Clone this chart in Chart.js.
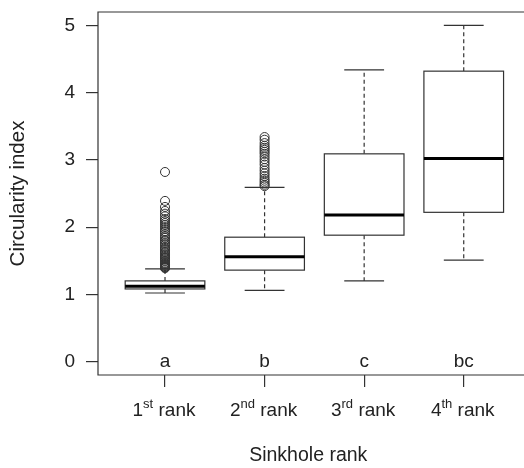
<!DOCTYPE html>
<html>
<head>
<meta charset="utf-8">
<script src="https://cdn.jsdelivr.net/npm/chart.js@4"></script>
<style>
  html, body { margin: 0; padding: 0; background: #fff; overflow: hidden; }
  #boxChart { display: block; }
</style>
</head>
<body>
<canvas id="boxChart" width="524" height="468"></canvas>
<script>
// Données
const rankPos = [1, 2, 3, 4];
const rankNum = ['1', '2', '3', '4'];
const rankSup = ['st', 'nd', 'rd', 'th'];
const rankWord = ' rank';
const groupLetters = ['a', 'b', 'c', 'bc'];

const lowWhisker = [1.02, 1.06, 1.20, 1.51];
const q1 = [1.08, 1.36, 1.88, 2.22];
const median = [1.12, 1.56, 2.18, 3.02];
const q3 = [1.20, 1.85, 3.09, 4.32];
const highWhisker = [1.38, 2.59, 4.34, 5.00];

const outliers1 = [2.82, 2.39, 2.30, 2.24, 2.20, 2.16, 2.12, 2.09, 2.06, 2.03, 2.00, 1.97, 1.94, 1.92,
  1.89, 1.86, 1.84, 1.81, 1.79, 1.76, 1.74, 1.71, 1.69, 1.67, 1.65, 1.63, 1.61, 1.59, 1.57, 1.55,
  1.54, 1.52, 1.50, 1.49, 1.47, 1.46, 1.45, 1.44, 1.43, 1.42, 1.41, 1.40, 1.40, 1.39];
const outliers2 = [3.34, 3.30, 3.25, 3.21, 3.18, 3.15, 3.12, 3.09, 3.05, 3.01, 2.97, 2.93, 2.88, 2.84,
  2.80, 2.76, 2.72, 2.69, 2.66, 2.63, 2.61];

const yTicks = [0, 1, 2, 3, 4, 5];

const FONT = '"Liberation Sans", Arial, sans-serif';
const INK = '#333';

// Boîtes, moustaches, lettres et cadre
const boxPlugin = {
  id: 'boxes',
  beforeDatasetsDraw(chart) {
    const ctx = chart.ctx;
    const xs = chart.scales.x, ys = chart.scales.y;
    ctx.save();
    rankPos.forEach((p, i) => {
      const x = xs.getPixelForValue(p);
      const xl = xs.getPixelForValue(p - 0.4), xr = xs.getPixelForValue(p + 0.4);
      const cl = xs.getPixelForValue(p - 0.2), cr = xs.getPixelForValue(p + 0.2);
      const yLo = ys.getPixelForValue(lowWhisker[i]);
      const yQ1 = ys.getPixelForValue(q1[i]);
      const yMed = ys.getPixelForValue(median[i]);
      const yQ3 = ys.getPixelForValue(q3[i]);
      const yHi = ys.getPixelForValue(highWhisker[i]);
      ctx.strokeStyle = INK;
      ctx.lineWidth = 1.2;
      // moustaches pointillées
      ctx.setLineDash([4, 3]);
      ctx.beginPath();
      ctx.moveTo(x, yQ3); ctx.lineTo(x, yHi);
      ctx.moveTo(x, yQ1); ctx.lineTo(x, yLo);
      ctx.stroke();
      ctx.setLineDash([]);
      // extrémités
      ctx.beginPath();
      ctx.moveTo(cl, yHi); ctx.lineTo(cr, yHi);
      ctx.moveTo(cl, yLo); ctx.lineTo(cr, yLo);
      ctx.stroke();
      // boîte
      ctx.fillStyle = '#fff';
      ctx.fillRect(xl, yQ3, xr - xl, yQ1 - yQ3);
      ctx.strokeRect(xl, yQ3, xr - xl, yQ1 - yQ3);
      // médiane
      ctx.strokeStyle = '#000';
      ctx.lineWidth = 3;
      ctx.beginPath();
      ctx.moveTo(xl, yMed); ctx.lineTo(xr, yMed);
      ctx.stroke();
    });
    ctx.restore();
  },
  afterDraw(chart) {
    const ctx = chart.ctx;
    const xs = chart.scales.x, ys = chart.scales.y;
    const a = chart.chartArea;
    ctx.save();
    // cadre : le bord droit est hors de l'image
    ctx.strokeStyle = INK;
    ctx.lineWidth = 1.2;
    ctx.beginPath();
    ctx.moveTo(chart.width, a.top);
    ctx.lineTo(a.left, a.top);
    ctx.lineTo(a.left, a.bottom);
    ctx.lineTo(chart.width, a.bottom);
    ctx.stroke();
    // lettres des groupes
    ctx.fillStyle = '#222';
    ctx.font = '19px ' + FONT;
    ctx.textAlign = 'center';
    ctx.textBaseline = 'middle';
    rankPos.forEach((p, i) => {
      ctx.fillText(groupLetters[i], xs.getPixelForValue(p), ys.getPixelForValue(0));
    });
    // étiquettes de l'axe x avec exposants
    ctx.textAlign = 'left';
    ctx.textBaseline = 'alphabetic';
    const base = a.bottom + 41;
    rankPos.forEach((p, i) => {
      const x = xs.getPixelForValue(p);
      ctx.font = '19px ' + FONT;
      const w1 = ctx.measureText(rankNum[i]).width;
      const w3 = ctx.measureText(rankWord).width;
      ctx.font = '13px ' + FONT;
      const w2 = ctx.measureText(rankSup[i]).width;
      let sx = x - (w1 + w2 + w3) / 2 - 1;
      ctx.font = '19px ' + FONT;
      ctx.fillText(rankNum[i], sx, base);
      ctx.font = '13px ' + FONT;
      ctx.fillText(rankSup[i], sx + w1, base - 8);
      ctx.font = '19px ' + FONT;
      ctx.fillText(rankWord, sx + w1 + w2, base);
    });
    ctx.restore();
  }
};

const ctx = document.getElementById('boxChart').getContext('2d');
new Chart(ctx, {
  type: 'scatter',
  data: {
    datasets: [{
      label: 'outliers',
      data: outliers1.map(v => ({ x: rankPos[0], y: v })).concat(outliers2.map(v => ({ x: rankPos[1], y: v }))),
      pointStyle: 'circle',
      pointRadius: 4.5,
      pointBorderWidth: 1,
      backgroundColor: 'rgba(0,0,0,0)',
      borderColor: INK
    }]
  },
  options: {
    responsive: false,
    animation: false,
    devicePixelRatio: 1,
    layout: { padding: { top: 12, right: 0, bottom: 0, left: 0 } },
    plugins: { legend: { display: false }, tooltip: { enabled: false } },
    scales: {
      x: {
        type: 'linear',
        min: 0.327,
        max: 4.55,
        afterBuildTicks: s => { s.ticks = rankPos.map(v => ({ value: v })); },
        afterFit: s => { s.height = 93; },
        ticks: { callback: () => '', autoSkip: false },
        grid: { drawOnChartArea: false, drawTicks: true, tickLength: 12, color: INK, lineWidth: 1.2 },
        border: { display: false },
        title: {
          display: true,
          text: 'Sinkhole rank',
          color: '#222',
          font: { family: FONT, size: 19.5 },
          padding: { top: 0, bottom: 1 }
        }
      },
      y: {
        min: -0.2,
        max: 5.2,
        afterBuildTicks: s => { s.ticks = yTicks.map(v => ({ value: v })); },
        afterFit: s => { s.width = 98; s.paddingTop = 0; s.paddingBottom = 0; },
        ticks: { color: '#222', font: { family: FONT, size: 19 }, padding: 11 },
        grid: { drawOnChartArea: false, drawTicks: true, tickLength: 12, color: INK, lineWidth: 1.2 },
        border: { display: false },
        title: {
          display: true,
          text: 'Circularity index',
          color: '#222',
          font: { family: FONT, size: 20.5 },
          padding: { top: 6, bottom: 0 }
        }
      }
    }
  },
  plugins: [boxPlugin]
});
</script>
</body>
</html>
